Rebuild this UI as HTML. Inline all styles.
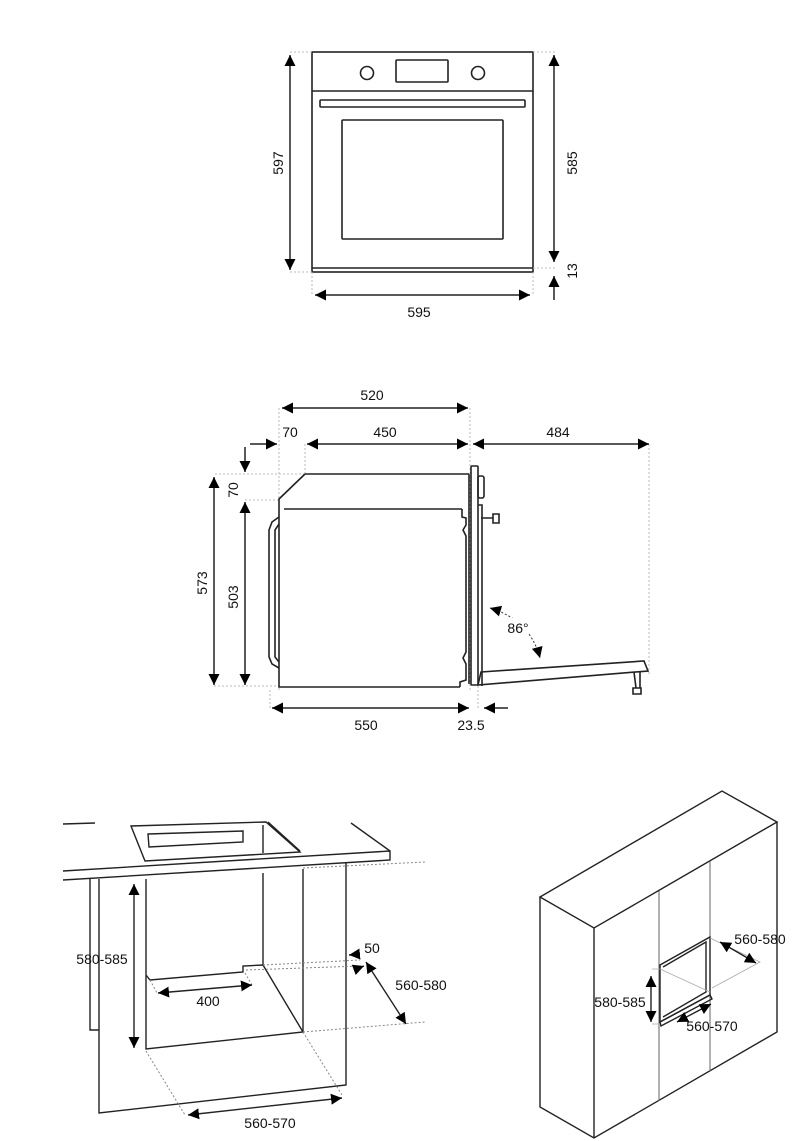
<!DOCTYPE html>
<html><head><meta charset="utf-8"><style>
html,body{margin:0;padding:0;background:#fff;}
svg{display:block}
text{font-family:"Liberation Sans",sans-serif;font-size:14px;fill:#111;}
</style></head><body>
<svg width="800" height="1141" viewBox="0 0 800 1141" xmlns="http://www.w3.org/2000/svg">
<defs>
<marker id="a" viewBox="0 0 10 10" refX="10" refY="5" markerWidth="11" markerHeight="11" orient="auto-start-reverse" markerUnits="userSpaceOnUse"><path d="M0,0 L10,5 L0,10 z" fill="#000"/></marker>
</defs>
<g fill="none" stroke="#222" stroke-width="1.6">
<rect x="312" y="52" width="221" height="220"/>
<line x1="312" y1="91" x2="533" y2="91"/>
<line x1="312" y1="268" x2="533" y2="268"/>
<circle cx="367" cy="73" r="6.5"/><circle cx="478" cy="73" r="6.5"/>
<rect x="396" y="60" width="52" height="22" rx="1"/>
<rect x="320" y="100" width="205" height="7" rx="1"/>
<rect x="342" y="120" width="161" height="119" rx="1"/>
</g>
<g stroke="#bbb" stroke-width="1" stroke-dasharray="2,2" fill="none">
<line x1="290" y1="52" x2="312" y2="52"/><line x1="290" y1="272" x2="312" y2="272"/>
<line x1="533" y1="52" x2="556" y2="52"/><line x1="533" y1="268" x2="556" y2="268"/>
<line x1="312" y1="272" x2="312" y2="295"/><line x1="533" y1="272" x2="533" y2="295"/>
</g>
<g stroke="#222" stroke-width="1.5" fill="none">
<line x1="290" y1="55" x2="290" y2="270" marker-start="url(#a)" marker-end="url(#a)"/>
<line x1="554" y1="55" x2="554" y2="262" marker-start="url(#a)" marker-end="url(#a)"/>
<line x1="554" y1="300" x2="554" y2="276" marker-end="url(#a)"/>
<line x1="315" y1="295" x2="530" y2="295" marker-start="url(#a)" marker-end="url(#a)"/>
</g>
<text x="283" y="163" text-anchor="middle" transform="rotate(-90 283 163)">597</text>
<text x="577" y="163" text-anchor="middle" transform="rotate(-90 577 163)">585</text>
<text x="577" y="271" text-anchor="middle" transform="rotate(-90 577 271)">13</text>
<text x="419" y="317" text-anchor="middle">595</text>

<g stroke="#bbb" stroke-width="1" stroke-dasharray="2,2" fill="none">
<line x1="279" y1="408" x2="279" y2="690"/><line x1="305" y1="444" x2="305" y2="474"/>
<line x1="470" y1="408" x2="470" y2="690"/><line x1="649" y1="444" x2="649" y2="675"/>
<line x1="215" y1="474" x2="305" y2="474"/><line x1="245" y1="500" x2="279" y2="500"/>
<line x1="214" y1="686" x2="279" y2="686"/><line x1="478" y1="686" x2="478" y2="708"/>
<line x1="270" y1="690" x2="270" y2="708"/>
</g>
<g stroke="#222" stroke-width="1.5" fill="none">
<line x1="282" y1="408" x2="468" y2="408" marker-start="url(#a)" marker-end="url(#a)"/>
<line x1="250" y1="444" x2="277" y2="444" marker-end="url(#a)"/>
<line x1="307" y1="444" x2="468" y2="444" marker-start="url(#a)" marker-end="url(#a)"/>
<line x1="473" y1="444" x2="649" y2="444" marker-start="url(#a)" marker-end="url(#a)"/>
<line x1="245" y1="447" x2="245" y2="472" marker-end="url(#a)"/>
<line x1="214" y1="477" x2="214" y2="685" marker-start="url(#a)" marker-end="url(#a)"/>
<line x1="245" y1="502" x2="245" y2="685" marker-start="url(#a)" marker-end="url(#a)"/>
<line x1="272" y1="708" x2="469" y2="708" marker-start="url(#a)" marker-end="url(#a)"/>
<line x1="508" y1="708" x2="484" y2="708" marker-end="url(#a)"/>
</g>
<g stroke="#222" stroke-width="1.6" fill="none">
<path d="M305,474 L469,474 M305,474 L279,499 L279,687 L460,687 M284,509 L462,509"/>
<path d="M462,509 L462,517 L466,518 L466,525 L463,530 L466,536 L466,652 L463,658 L466,664 L466,680 L460,682 L460,687"/>
<path d="M469,474 L469,684"/>
<path d="M279,517 L272,522 L269,530 L269,657 L272,664 L279,668"/>
<path d="M279,524 L275,530 L275,657 L279,662"/>
<rect x="471" y="466" width="7" height="219" rx="1"/>
<rect x="478" y="476" width="6" height="22" rx="2"/>
<path d="M478,505 L482,505 L482,686"/>
<path d="M481,518 L493,518 M493,514 L499,514 L499,523 L493,523 z"/>
<path d="M481,672 L644,661 L648,671 L478,685 z"/>
<path d="M634,672 L636,688 L640,688 L640,672 M633,688 L641,688 L641,694 L633,694 z"/>
</g>
<path d="M490,608 Q530,620 540,658" stroke="#333" stroke-width="1" stroke-dasharray="2,2" fill="none" marker-start="url(#a)" marker-end="url(#a)"/>
<rect x="505" y="618" width="26" height="16" fill="#fff"/>
<text x="372" y="400" text-anchor="middle">520</text>
<text x="290" y="437" text-anchor="middle">70</text>
<text x="385" y="437" text-anchor="middle">450</text>
<text x="558" y="437" text-anchor="middle">484</text>
<text x="238" y="490" text-anchor="middle" transform="rotate(-90 238 490)">70</text>
<text x="207" y="583" text-anchor="middle" transform="rotate(-90 207 583)">573</text>
<text x="238" y="597" text-anchor="middle" transform="rotate(-90 238 597)">503</text>
<text x="518" y="633" text-anchor="middle">86°</text>
<text x="366" y="730" text-anchor="middle">550</text>
<text x="471" y="730" text-anchor="middle">23.5</text>

<g stroke="#222" stroke-width="1.4" fill="none">
<path d="M63,824 L95,823"/>
<path d="M63,871 L390,851 L390,860 L63,880"/>
<path d="M351,823 L390,851"/>
<path d="M131,826 L266,822 L300,852 L145,861 z"/>
<path d="M268,822 L300,851"/>
<path d="M148,834 L243,831 L243,842 L149,847 z"/>
<path d="M263,825 L263,853"/>
<path d="M90,879 L90,1030 L99,1030"/>
<path d="M99,879 L99,1113 L346,1085 L346,862"/>
<path d="M146,879 L146,1049 L303,1032 L303,869"/>
<path d="M263,873 L263,965"/>
<path d="M146,975 L150,980 L243,972 L243,966 L263,965 L303,1032"/>
</g>
<g stroke="#888" stroke-width="1" stroke-dasharray="2,2" fill="none">
<line x1="303" y1="868" x2="425" y2="862"/>
<line x1="263" y1="965" x2="360" y2="960"/>
<line x1="246" y1="970" x2="360" y2="966"/>
<line x1="303" y1="1032" x2="425" y2="1022"/>
<line x1="146" y1="1051" x2="185" y2="1115"/>
<line x1="303" y1="1032" x2="342" y2="1095"/>
<line x1="150" y1="980" x2="157" y2="993"/>
<line x1="245" y1="973" x2="252" y2="985"/>
</g>
<g stroke="#222" stroke-width="1.4" fill="none">
<line x1="134" y1="884" x2="134" y2="1048" marker-start="url(#a)" marker-end="url(#a)"/>
<line x1="158" y1="993" x2="252" y2="985" marker-start="url(#a)" marker-end="url(#a)"/>
<line x1="188" y1="1115" x2="342" y2="1098" marker-start="url(#a)" marker-end="url(#a)"/>
<line x1="360" y1="954" x2="349" y2="955" marker-end="url(#a)"/>
<line x1="356" y1="969" x2="364" y2="966" marker-end="url(#a)"/>
<line x1="366" y1="962" x2="406" y2="1024" marker-start="url(#a)" marker-end="url(#a)"/>
</g>
<text x="102" y="964" text-anchor="middle">580-585</text>
<text x="208" y="1006" text-anchor="middle">400</text>
<text x="372" y="953" text-anchor="middle">50</text>
<text x="421" y="990" text-anchor="middle">560-580</text>
<text x="270" y="1128" text-anchor="middle">560-570</text>

<g stroke="#222" stroke-width="1.4" fill="none">
<path d="M540,897 L722,791 L777,822 L594,928 z"/>
<path d="M540,897 L540,1107 L594,1138 L777,1032 L777,822"/>
<path d="M594,928 L594,1138"/>
</g>
<g stroke="#666" stroke-width="1" fill="none">
<path d="M659,891 L659,1101 M710,861 L710,1071"/>
</g>
<g stroke="#222" stroke-width="1.4" fill="none">
<path d="M660,965 L710,937 L710,995 L660,1022 z"/>
<path d="M663,967 L706,942 L706,992 L663,1017"/>
<path d="M660,1022 L710,995 L712,999 L661,1026 z"/>
</g>
<g stroke="#aaa" stroke-width="0.8" fill="none">
<path d="M652,969 L660,969 L710,992 M710,938 L760,962 L712,988 M652,1024 L660,1024"/>
</g>
<g stroke="#222" stroke-width="1.4" fill="none">
<line x1="651" y1="976" x2="651" y2="1022" marker-start="url(#a)" marker-end="url(#a)"/>
<line x1="720" y1="942" x2="756" y2="963" marker-start="url(#a)" marker-end="url(#a)"/>
<line x1="677" y1="1022" x2="711" y2="1004" marker-start="url(#a)" marker-end="url(#a)"/>
</g>
<text x="760" y="944" text-anchor="middle">560-580</text>
<text x="620" y="1007" text-anchor="middle">580-585</text>
<text x="712" y="1031" text-anchor="middle">560-570</text>
</svg>
</body></html>
